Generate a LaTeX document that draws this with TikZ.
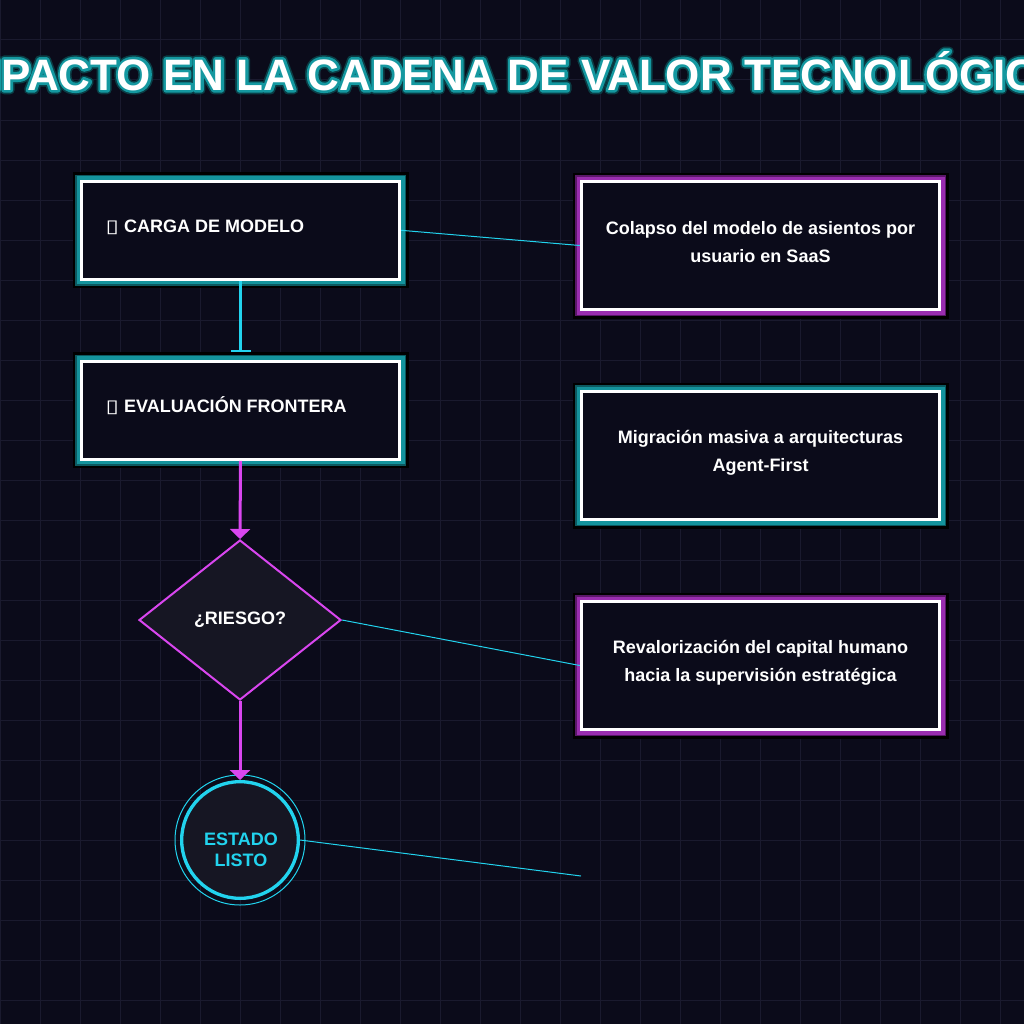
\documentclass[tikz,border=0pt]{standalone}
\usepackage{fontspec}
\usepackage{graphicx}
\setmainfont{Liberation Sans}
\newfontfamily\symfont{DejaVu Sans}
\usetikzlibrary{arrows.meta,shapes.geometric}
\definecolor{bgcol}{HTML}{0B0B1A}
\definecolor{gridcol}{HTML}{1A1A2E}
\definecolor{nodefill}{HTML}{161623}
\definecolor{neoncyan}{HTML}{22D3EE}
\definecolor{neonpink}{HTML}{D946EF}
\definecolor{tealdk}{HTML}{0C5960}
\definecolor{tealmd}{HTML}{14939C}
\definecolor{purpdk}{HTML}{5A1868}
\definecolor{purpmd}{HTML}{9A2DAF}
\definecolor{titleglow}{HTML}{1498A0}
\definecolor{titlehalo}{HTML}{0A3E46}
% stroked copies under the white title letters
\newcommand{\strokecopy}[3]{%
  \rlap{\color{#1}\special{pdf:literal direct 2 Tr #2 w 1 j 1 J}#3\special{pdf:literal direct 0 Tr}}}
\newcommand{\glowtitle}[1]{\strokecopy{titlehalo}{6.4}{#1}\strokecopy{titleglow}{4}{#1}#1}
\newcommand{\tofu}{{\symfont\scalebox{1.35}[1]{▯}}}
\begin{document}
\begin{tikzpicture}[x=0.75pt, y=-0.75pt,
  every node/.style={font=\bfseries\fontsize{13.5}{21}\selectfont, text=white},
  box/.style={draw=white, line width=2.5pt, fill=bgcol, inner sep=0pt},
  leftbox/.style={box, minimum width=238.5pt, minimum height=73.5pt},
  rightbox/.style={box, minimum width=268.5pt, minimum height=96pt},
  tealglow/.style={preaction={draw=black, line width=13.5pt},
    preaction={draw=tealdk, line width=10pt}, preaction={draw=tealmd, line width=7.5pt}},
  purpglow/.style={preaction={draw=black, line width=13.5pt},
    preaction={draw=purpdk, line width=10pt}, preaction={draw=purpmd, line width=7.5pt}},
  boxlabel/.style={anchor=base west},
  impactlabel/.style={align=center},
  flowbar/.style={draw=neoncyan, line width=2.25pt, -{Bar[width=15pt, line width=1.5pt]}, shorten >=6pt},
  flowtri/.style={draw=neonpink, line width=2.25pt, -{Triangle[width=15pt, length=7.5pt]}},
  link/.style={draw=neoncyan, line width=0.75pt},
  gridline/.style={draw=gridcol, line width=0.75pt}
]
\useasboundingbox (0,0) rectangle (1024,1024);
\clip (0,0) rectangle (1024,1024);
% Background and grid
\fill[bgcol] (0,0) rectangle (1024,1024);
\foreach \g in {0,40,...,1000} {
  \draw[gridline] (\g,0) -- (\g,1024);
  \draw[gridline] (0,\g) -- (1024,\g);
}
% Title
\node[font=\bfseries\fontsize{33}{39}\selectfont, anchor=base] (title) at (512,90)
  {\glowtitle{IMPACTO EN LA CADENA DE VALOR TECNOLÓGICO}};
% Flow column
\node[leftbox, tealglow] (load) at (240.5,230.3) {};
\node[boxlabel] (loadlbl) at (101,232.5) {\tofu\ CARGA DE MODELO};
\node[leftbox, tealglow] (eval) at (240.5,410.3) {};
\node[boxlabel] (evallbl) at (101,412.5) {\tofu\ EVALUACIÓN FRONTERA};
\node[diamond, draw=neonpink, line width=1.5pt, fill=nodefill, inner sep=0pt,
  minimum width=151.5pt, minimum height=120pt] (risk) at (240,620) {¿RIESGO?};
\node[circle, draw=neoncyan, line width=2.5pt, fill=nodefill, minimum size=87.5pt] (done) at (240,840) {};
\draw[neoncyan, line width=0.75pt] (done.center) circle[radius=65];
\node[align=center, text=neoncyan, font=\bfseries\fontsize{13.5}{15.75}\selectfont] (donelbl) at (241,850) {ESTADO\\LISTO};
% Impact boxes
\node[rightbox, purpglow] (seats) at (760.5,245.5) {};
\node[impactlabel] (seatslbl) at (760.5,242.5) {Colapso del modelo de asientos por\\usuario en SaaS};
\node[rightbox, tealglow] (agents) at (760.5,455.5) {};
\node[impactlabel] (agentslbl) at (760.5,452.5) {Migración masiva a arquitecturas\\Agent-First};
\node[rightbox, purpglow] (talent) at (760.5,665.5) {};
\node[impactlabel] (talentlbl) at (760.5,662.5) {Revalorización del capital humano\\hacia la supervisión estratégica};
\coordinate (slot) at (581,876);
% Connectors
\draw[flowbar] (load.south) -- (eval.north);
\draw[flowtri] (eval.south) -- (risk.north);
\draw[flowtri] (risk.south) -- (done.north);
\draw[link] (load.east) -- (seats.west);
\draw[link] (risk.east) -- (talent.west);
\draw[link] (done.east) -- (slot);
\end{tikzpicture}
\end{document}
